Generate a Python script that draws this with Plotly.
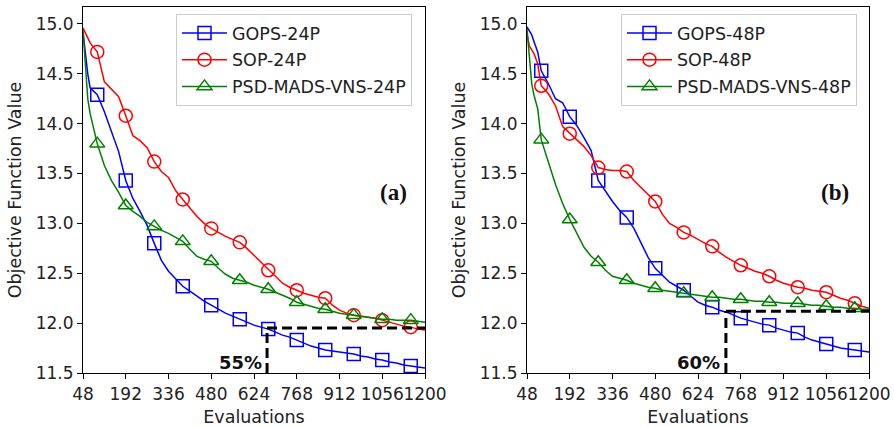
import plotly.graph_objects as go

# ---------------- data ----------------
evals = [48, 56, 64, 72, 84, 96, 120, 144, 168, 192, 216, 240, 264, 288, 312, 336,
         360, 384, 408, 432, 456, 480, 504, 528, 552, 576, 600, 624, 648, 672, 696,
         720, 744, 768, 792, 816, 840, 864, 888, 912, 936, 960, 984, 1008, 1032, 1056,
         1080, 1104, 1128, 1152, 1176, 1200]

gops_24p = [14.92, 14.70, 14.50, 14.36, 14.32, 14.29, 14.12, 13.92, 13.72, 13.43, 13.25,
            13.12, 12.98, 12.80, 12.63, 12.52, 12.44, 12.37, 12.32, 12.27, 12.22, 12.18,
            12.14, 12.10, 12.07, 12.04, 12.01, 11.98, 11.96, 11.94, 11.91, 11.88, 11.86,
            11.83, 11.80, 11.77, 11.75, 11.73, 11.72, 11.71, 11.70, 11.69, 11.67, 11.66,
            11.64, 11.63, 11.61, 11.60, 11.58, 11.57, 11.56, 11.55]
sop_24p = [14.96, 14.90, 14.86, 14.81, 14.77, 14.72, 14.42, 14.34, 14.27, 14.08, 13.88,
           13.83, 13.76, 13.62, 13.52, 13.46, 13.33, 13.24, 13.15, 13.07, 13.00, 12.95,
           12.91, 12.87, 12.84, 12.81, 12.75, 12.68, 12.60, 12.53, 12.46, 12.40, 12.36,
           12.33, 12.30, 12.28, 12.26, 12.25, 12.18, 12.13, 12.10, 12.08, 12.07, 12.06,
           12.05, 12.03, 12.01, 11.99, 11.97, 11.96, 11.94, 11.93]
psd_24p = [14.94, 14.60, 14.25, 14.10, 13.95, 13.80, 13.58, 13.43, 13.31, 13.18, 13.12,
           13.07, 13.01, 12.97, 12.93, 12.90, 12.86, 12.82, 12.74, 12.67, 12.64, 12.62,
           12.55, 12.49, 12.45, 12.43, 12.41, 12.38, 12.36, 12.34, 12.31, 12.28, 12.25,
           12.21, 12.19, 12.17, 12.15, 12.14, 12.12, 12.10, 12.09, 12.08, 12.07, 12.06,
           12.05, 12.04, 12.04, 12.03, 12.03, 12.03, 12.02, 12.01]

gops_48p = [14.97, 14.93, 14.89, 14.82, 14.72, 14.53, 14.40, 14.25, 14.21, 14.07, 13.98,
            13.86, 13.73, 13.43, 13.32, 13.22, 13.13, 13.06, 12.95, 12.81, 12.66, 12.55,
            12.48, 12.41, 12.37, 12.33, 12.27, 12.21, 12.18, 12.16, 12.13, 12.11, 12.08,
            12.05, 12.03, 12.01, 11.99, 11.98, 11.95, 11.93, 11.91, 11.90, 11.86, 11.83,
            11.81, 11.79, 11.77, 11.75, 11.74, 11.73, 11.72, 11.71]
sop_48p = [14.90, 14.78, 14.74, 14.70, 14.60, 14.38, 14.30, 14.18, 13.97, 13.90, 13.84,
           13.77, 13.68, 13.56, 13.54, 13.53, 13.53, 13.52, 13.43, 13.36, 13.29, 13.22,
           13.09, 13.00, 12.96, 12.91, 12.88, 12.84, 12.80, 12.77, 12.71, 12.66, 12.62,
           12.58, 12.55, 12.52, 12.50, 12.47, 12.43, 12.40, 12.38, 12.36, 12.35, 12.33,
           12.32, 12.31, 12.28, 12.25, 12.23, 12.20, 12.17, 12.15]
psd_48p = [14.95, 14.68, 14.40, 14.28, 14.15, 13.84, 13.62, 13.39, 13.20, 13.04, 12.90,
           12.76, 12.67, 12.61, 12.53, 12.47, 12.45, 12.43, 12.40, 12.38, 12.36, 12.35,
           12.33, 12.32, 12.31, 12.30, 12.29, 12.28, 12.27, 12.26, 12.26, 12.25, 12.24,
           12.24, 12.23, 12.22, 12.22, 12.21, 12.21, 12.20, 12.20, 12.20, 12.19, 12.18,
           12.18, 12.17, 12.16, 12.16, 12.15, 12.15, 12.14, 12.14]

x_ticks = [48, 192, 336, 480, 624, 768, 912, 1056, 1200]
y_ticks = [11.5, 12.0, 12.5, 13.0, 13.5, 14.0, 14.5, 15.0]

# reference (dashed) markers: evaluation where target reached, target level, label
cut_eval = [668, 718]
cut_level = [11.95, 12.12]
cut_label = ["55%", "60%"]
panel_label = ["(a)", "(b)"]
marker_step = 96

# ---------------- figure ----------------
W, H = 894, 427
FONT = "DejaVu Sans"
fig = go.Figure()

panels = [
    dict(xa="x", ya="y", leg="legend",
         series=[("GOPS-24P", gops_24p, "#0000ff", "square-open"),
                 ("SOP-24P", sop_24p, "#ff0000", "circle-open"),
                 ("PSD-MADS-VNS-24P", psd_24p, "#008000", "triangle-up-open")]),
    dict(xa="x2", ya="y2", leg="legend2",
         series=[("GOPS-48P", gops_48p, "#0000ff", "square-open"),
                 ("SOP-48P", sop_48p, "#ff0000", "circle-open"),
                 ("PSD-MADS-VNS-48P", psd_48p, "#008000", "triangle-up-open")]),
]

for p in panels:
    for name, vals, col, sym in p["series"]:
        fig.add_trace(go.Scatter(x=evals, y=vals, mode="lines", xaxis=p["xa"], yaxis=p["ya"],
                                 line=dict(color=col, width=1.5), showlegend=False,
                                 hoverinfo="skip"))
        mx = [e for e in evals if e % marker_step == 0 and e >= marker_step]
        my = [v for e, v in zip(evals, vals) if e % marker_step == 0 and e >= marker_step]
        mk = dict(symbol=sym, size=13, color=col, line=dict(color=col, width=1.5))
        fig.add_trace(go.Scatter(x=mx, y=my, mode="markers", xaxis=p["xa"], yaxis=p["ya"],
                                 marker=mk, showlegend=False))
        fig.add_trace(go.Scatter(x=[None], y=[None], mode="lines+markers", name=name,
                                 xaxis=p["xa"], yaxis=p["ya"], legend=p["leg"],
                                 legendgroup=name,
                                 line=dict(color=col, width=1.5), marker=mk))

# dashed guide lines
for i, (xa, ya) in enumerate([("x", "y"), ("x2", "y2")]):
    dash = dict(color="black", width=3, dash="10px,5px")
    fig.add_shape(type="line", xref=xa, yref=ya, x0=cut_eval[i], x1=x_ticks[-1],
                  y0=cut_level[i], y1=cut_level[i], line=dash)
    fig.add_shape(type="line", xref=xa, yref=ya, x0=cut_eval[i], x1=cut_eval[i],
                  y0=y_ticks[0], y1=cut_level[i], line=dash)

xd = [[83 / W, 425 / W], [527 / W, 869 / W]]
yd = [(H - 373) / H, (H - 7) / H]

axis_common = dict(showline=True, linecolor="black", linewidth=1.2, mirror=True,
                   ticks="outside", ticklen=5, tickwidth=1.2, tickcolor="black",
                   showgrid=False, zeroline=False, automargin=False,
                   tickfont=dict(family=FONT, size=17, color="#222"))

layout = dict(width=W, height=H, margin=dict(l=0, r=0, t=0, b=0, autoexpand=False),
              paper_bgcolor="white", plot_bgcolor="white",
              font=dict(family=FONT, color="#222"))
for i in range(2):
    sx = "" if i == 0 else "2"
    layout["xaxis" + sx] = dict(axis_common, domain=xd[i], range=[x_ticks[0], x_ticks[-1]],
                                tickvals=x_ticks, tickangle=0, anchor="y" + sx,
                                title=dict(text="Evaluations", standoff=13,
                                           font=dict(family=FONT, size=17.5, color="#222")))
    layout["yaxis" + sx] = dict(axis_common, domain=yd, range=[11.5, 15.17],
                                tickvals=y_ticks, tickformat=".1f", anchor="x" + sx,
                                title=dict(text="Objective Function Value", standoff=9,
                                           font=dict(family=FONT, size=17.5, color="#222")))
leg_common = dict(xanchor="left", yanchor="top", bgcolor="rgba(255,255,255,0.85)",
                  bordercolor="#cccccc", borderwidth=1, tracegroupgap=1, itemwidth=45,
                  font=dict(family=FONT, size=17.5, color="#222"))
layout["legend"] = dict(leg_common, x=176 / W, y=(H - 14) / H)
layout["legend2"] = dict(leg_common, x=621 / W, y=(H - 14) / H)
fig.update_layout(**layout)

# panel labels and percentages
lab_x = [393 / W, 835 / W]
pct_x = [240 / W, 698 / W]
for i in range(2):
    fig.add_annotation(text="<b>%s</b>" % panel_label[i], x=lab_x[i], y=(H - 193) / H,
                       xref="paper", yref="paper", showarrow=False,
                       xanchor="center", yanchor="middle",
                       font=dict(family="Liberation Serif", size=23, color="#111"))
    fig.add_annotation(text="<b>%s</b>" % cut_label[i], x=pct_x[i], y=(H - 362) / H,
                       xref="paper", yref="paper", showarrow=False,
                       xanchor="center", yanchor="middle",
                       font=dict(family=FONT, size=18, color="#111"))

fig.write_html("out.html")
